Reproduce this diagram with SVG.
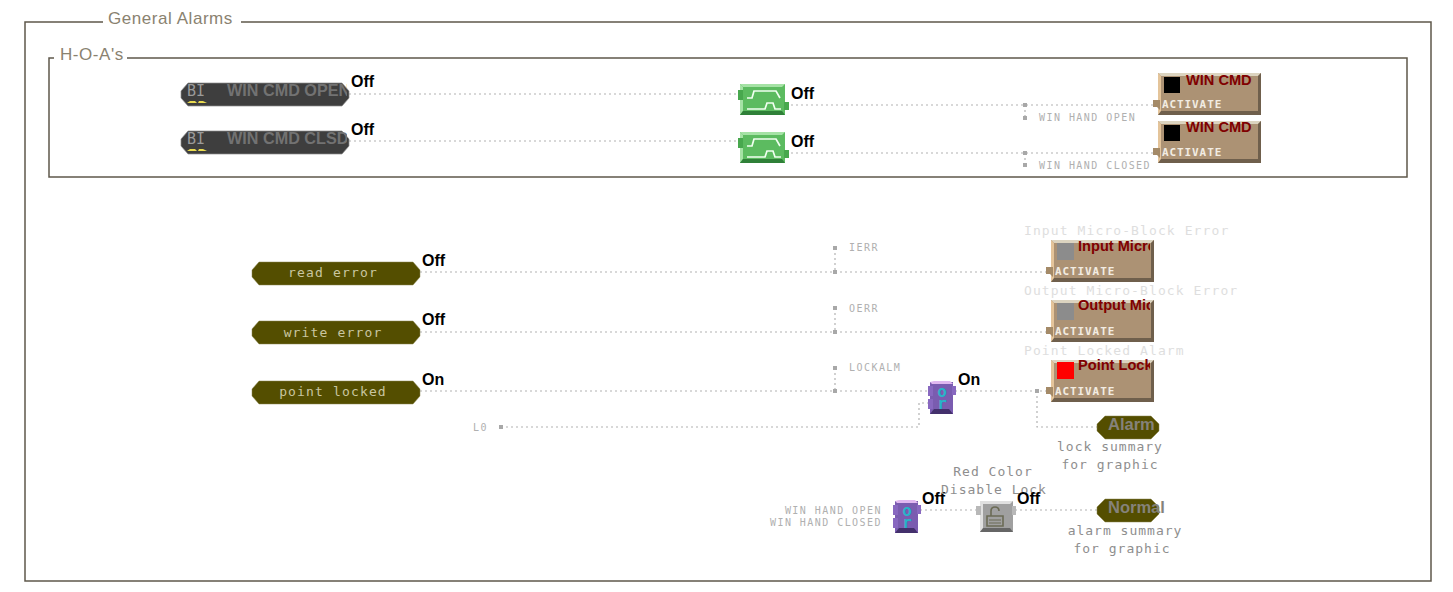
<svg xmlns="http://www.w3.org/2000/svg" width="1453" height="592" viewBox="0 0 1453 592">
<style>
.frame{fill:none;stroke:#5f584b;stroke-width:1.5}
.title{font:17px "Liberation Sans",Arial,sans-serif;fill:#8a8270;letter-spacing:.55px}
.wire{fill:none;stroke:#b2b2b2;stroke-width:1.2;stroke-dasharray:2 3}
.dot{fill:#a8a8a8}
.state{font:bold 16px "Liberation Sans",Arial,sans-serif;fill:#000}
.mono{font-family:"DejaVu Sans Mono","Liberation Mono",monospace}
.tag{font-size:10px;fill:#b0b0b0;letter-spacing:1.45px}
.cap{font-size:13px;fill:#8e8e8e;letter-spacing:1px;text-anchor:middle}
.faint{font-size:13px;fill:#dedede;letter-spacing:1.1px}
.olive{fill:#544e00;stroke:#8a8650;stroke-width:.5}
.oltxt{font-size:13px;fill:#c9c6a0;letter-spacing:1.15px;text-anchor:middle}
.graytxt{font:bold 16.500px "Liberation Sans",Arial,sans-serif;fill:#85827a}
.bi{fill:#3e3e3e;stroke:#8c8c8c;stroke-width:.7}
.bilbl{font-size:15px;fill:#9a9a9a}
.binm{font:bold 16.200px "Liberation Sans",Arial,sans-serif;fill:#727272}
.amb{fill:#e8da50}
.gbody{fill:#5cbb60}
.gtop{fill:#a5e2a5}
.gdark{fill:#2f8038}
.gport{fill:#48a84e}
.gsig{fill:none;stroke:#f0fff0;stroke-width:1.7}
.tbody{fill:#ac9274}
.ttop{fill:#dcd4c0}
.tleft{fill:#e4c49a}
.tdark{fill:#6f5f4c}
.tname{font:bold 14.600px "Liberation Sans",Arial,sans-serif;fill:#800000}
.act{font:bold 11px "DejaVu Sans Mono",monospace;fill:#f2ece2;letter-spacing:.9px}
.pbody{fill:#7a5cb0}
.ptop{fill:#e0b8f0}
.pdark{fill:#43306c}
.pport{fill:#8868c0}
.ortxt{font:bold 16px "DejaVu Sans Mono",monospace;fill:#28b4c8}
</style>
<defs>
<path id="oct" d="M7 0H161L168 8V15L161 23H7L0 15V8Z"/>
<path id="octS" d="M8 0H54L62 8V15L54 23H8L0 15V8Z"/>
<clipPath id="c1"><rect x="181" y="80" width="166" height="80"/></clipPath>
<clipPath id="c2"><rect x="1075" y="235" width="75" height="170"/></clipPath>
<g id="green">
<rect x="1" y="0" width="45" height="31" class="gbody"/>
<path d="M1 0H46L43 3H4Z" class="gtop"/>
<path d="M1 0L4 3V27L1 31Z" class="gtop"/>
<path d="M1 31L4 27H43L46 31Z" class="gdark"/>
<rect x="-1" y="6" width="5" height="10" class="gport"/>
<rect x="45" y="18" width="5" height="8" class="gport"/>
<path d="M8 14H13L15 7H37L41 14" class="gsig"/>
<path d="M8 25H26L28 19H34L36 25H42" class="gsig"/>
</g>
<g id="tan">
<rect width="103" height="42" class="tbody"/>
<path d="M0 0H103L100 3H3Z" class="ttop"/>
<path d="M0 0L3 3V42H0Z" class="tleft"/>
<path d="M103 0V42H0L3 38H100V3Z" class="tdark"/>
<path d="M-5 27H2V37L-1 34H-5Z" fill="#a48a68"/>
<text x="4" y="35" class="act">ACTIVATE</text>
</g>
<g id="or">
<rect x="2" y="1" width="23" height="32" class="pbody"/>
<path d="M2 1L6 0H22L25 3H4Z" class="ptop"/>
<path d="M2 33L6 28H21L25 33Z" class="pdark"/>
<rect x="0" y="5" width="5" height="10" class="pport"/>
<rect x="0" y="18" width="5" height="10" class="pport"/>
<rect x="24" y="5" width="4" height="9" class="pport"/>
<text x="14" y="16" text-anchor="middle" class="ortxt">o</text>
<text x="14" y="28" text-anchor="middle" class="ortxt">r</text>
</g>
<rect id="d" x="-2" y="-2" width="4" height="4" class="dot"/>
</defs>
<rect width="1453" height="592" fill="#fff"/>
<g id="frames">
<path class="frame" d="M103 22H25V581H1431V22H241"/>
<path class="frame" d="M54 58H49V177H1407V58H127"/>
<text class="title" x="108" y="24">General Alarms</text>
<text class="title" x="60" y="60">H-O-A's</text>
</g>
<g id="connectors">
<path class="wire" d="M349 94H740M786 105H1158M349 141H740M786 153H1158"/>
<path class="wire" d="M1025 105V118M1025 153V165"/>
<path class="wire" d="M420 272H1051M420 332H1051M420 391H928M955 391H1051"/>
<path class="wire" d="M835 248V272M835 308V332M835 368V391"/>
<path class="wire" d="M501 427H919V403H928"/>
<path class="wire" d="M1037 391V427H1097"/>
<path class="wire" d="M920 510H977M1015 510H1097"/>
<use href="#d" x="1025" y="105"/><use href="#d" x="1025" y="118"/>
<use href="#d" x="1025" y="153"/><use href="#d" x="1025" y="165"/>
<use href="#d" x="835" y="248"/><use href="#d" x="835" y="272"/>
<use href="#d" x="835" y="308"/><use href="#d" x="835" y="332"/>
<use href="#d" x="835" y="368"/><use href="#d" x="835" y="391"/>
<use href="#d" x="1037" y="391"/><use href="#d" x="501" y="427"/>
</g>
<g id="n-bi-open">
<use href="#oct" x="181" y="83" class="bi"/>
<text x="187" y="96" class="mono bilbl">BI</text>
<path d="M187 103l3-2h5l2 2zM198 103l1-2h4l4 2z" class="amb"/>
<text x="227" y="96" class="binm" clip-path="url(#c1)">WIN CMD OPEN</text>
<text x="351" y="87" class="state">Off</text>
</g>
<g id="n-bi-clsd">
<use href="#oct" x="181" y="131" class="bi"/>
<text x="187" y="144" class="mono bilbl">BI</text>
<path d="M187 151l3-2h5l2 2zM198 151l1-2h4l4 2z" class="amb"/>
<text x="227" y="144" class="binm" clip-path="url(#c1)">WIN CMD CLSD</text>
<text x="351" y="135" class="state">Off</text>
</g>
<g id="n-delay-open">
<use href="#green" x="739" y="84"/>
<text x="791" y="99" class="state">Off</text>
</g>
<g id="n-delay-clsd">
<use href="#green" x="739" y="132"/>
<text x="791" y="147" class="state">Off</text>
</g>
<g id="n-win-cmd-1">
<use href="#tan" x="1158" y="73"/>
<rect x="1164" y="77" width="16" height="16" fill="#000"/>
<text x="1186" y="85" class="tname">WIN CMD</text>
<text x="1039" y="121" class="mono tag">WIN HAND OPEN</text>
</g>
<g id="n-win-cmd-2">
<use href="#tan" x="1158" y="121"/>
<rect x="1164" y="125" width="16" height="16" fill="#000"/>
<text x="1186" y="132" class="tname">WIN CMD</text>
<text x="1039" y="169" class="mono tag">WIN HAND CLOSED</text>
</g>
<g id="n-read-error">
<use href="#oct" x="252" y="262" class="olive"/>
<text x="333" y="277" class="mono oltxt">read error</text>
<text x="422" y="266" class="state">Off</text>
<text x="849" y="251" class="mono tag">IERR</text>
</g>
<g id="n-write-error">
<use href="#oct" x="252" y="321" class="olive"/>
<text x="333" y="337" class="mono oltxt">write error</text>
<text x="422" y="325" class="state">Off</text>
<text x="849" y="312" class="mono tag">OERR</text>
</g>
<g id="n-point-locked">
<use href="#oct" x="252" y="381" class="olive"/>
<text x="333" y="396" class="mono oltxt">point locked</text>
<text x="422" y="385" class="state">On</text>
<text x="849" y="371" class="mono tag">LOCKALM</text>
</g>
<g id="n-l0"><text x="473" y="431" class="mono tag">L0</text></g>
<g id="n-input-err">
<text x="1024" y="235" class="mono faint">Input Micro-Block Error</text>
<use href="#tan" x="1051" y="240"/>
<rect x="1057" y="243" width="17" height="17" fill="#8c8c8c"/>
<text x="1078" y="251" class="tname" clip-path="url(#c2)">Input Micro-Block Error</text>
</g>
<g id="n-output-err">
<text x="1024" y="295" class="mono faint">Output Micro-Block Error</text>
<use href="#tan" x="1051" y="300"/>
<rect x="1057" y="303" width="17" height="17" fill="#8c8c8c"/>
<text x="1078" y="310" class="tname" clip-path="url(#c2)">Output Micro-Block Error</text>
</g>
<g id="n-point-alarm">
<text x="1024" y="355" class="mono faint">Point Locked Alarm</text>
<use href="#tan" x="1051" y="360"/>
<rect x="1057" y="362" width="17" height="17" fill="#f00"/>
<text x="1078" y="370" class="tname" clip-path="url(#c2)">Point Locked Alarm</text>
</g>
<g id="n-or-1">
<use href="#or" x="928" y="381"/>
<text x="958" y="385" class="state">On</text>
</g>
<g id="n-alarm">
<use href="#octS" x="1097" y="416" class="olive"/>
<text x="1108" y="430" class="graytxt">Alarm</text>
<text x="1110" y="451" class="mono cap">lock summary</text>
<text x="1110" y="469" class="mono cap">for graphic</text>
</g>
<g id="n-or-2">
<use href="#or" x="893" y="500"/>
<text x="882" y="514" text-anchor="end" class="mono tag">WIN HAND OPEN</text>
<text x="882" y="526" text-anchor="end" class="mono tag">WIN HAND CLOSED</text>
<text x="922" y="504" class="state">Off</text>
</g>
<g id="n-lock">
<text x="993" y="476" class="mono cap">Red Color</text>
<text x="994" y="494" class="mono cap">Disable Lock</text>
<rect x="980" y="501" width="33" height="31" fill="#a0a0a0"/>
<path d="M980 501H1013L1010 504H983ZM980 501L983 504V529L980 532Z" fill="#e0e0e0"/>
<path d="M980 532L983 528H1010L1013 532Z" fill="#666"/>
<rect x="976" y="506" width="5" height="9" fill="#b8b8b8"/>
<rect x="1012" y="506" width="4" height="9" fill="#b8b8b8"/>
<path d="M987 516H1003V526H987Z" fill="none" stroke="#6b6b55" stroke-width="1.600"/>
<path d="M989 520H1001M989 523H1001" stroke="#6b6b55"/>
<path d="M991 516V511Q991 507 995 507Q999 507 999 511" fill="none" stroke="#6b6b55" stroke-width="1.600"/>
<text x="1017" y="504" class="state">Off</text>
</g>
<g id="n-normal">
<use href="#octS" x="1097" y="499" class="olive"/>
<text x="1108" y="513" class="graytxt">Normal</text>
<text x="1125" y="535" class="mono cap">alarm summary</text>
<text x="1122" y="553" class="mono cap">for graphic</text>
</g>
</svg>
